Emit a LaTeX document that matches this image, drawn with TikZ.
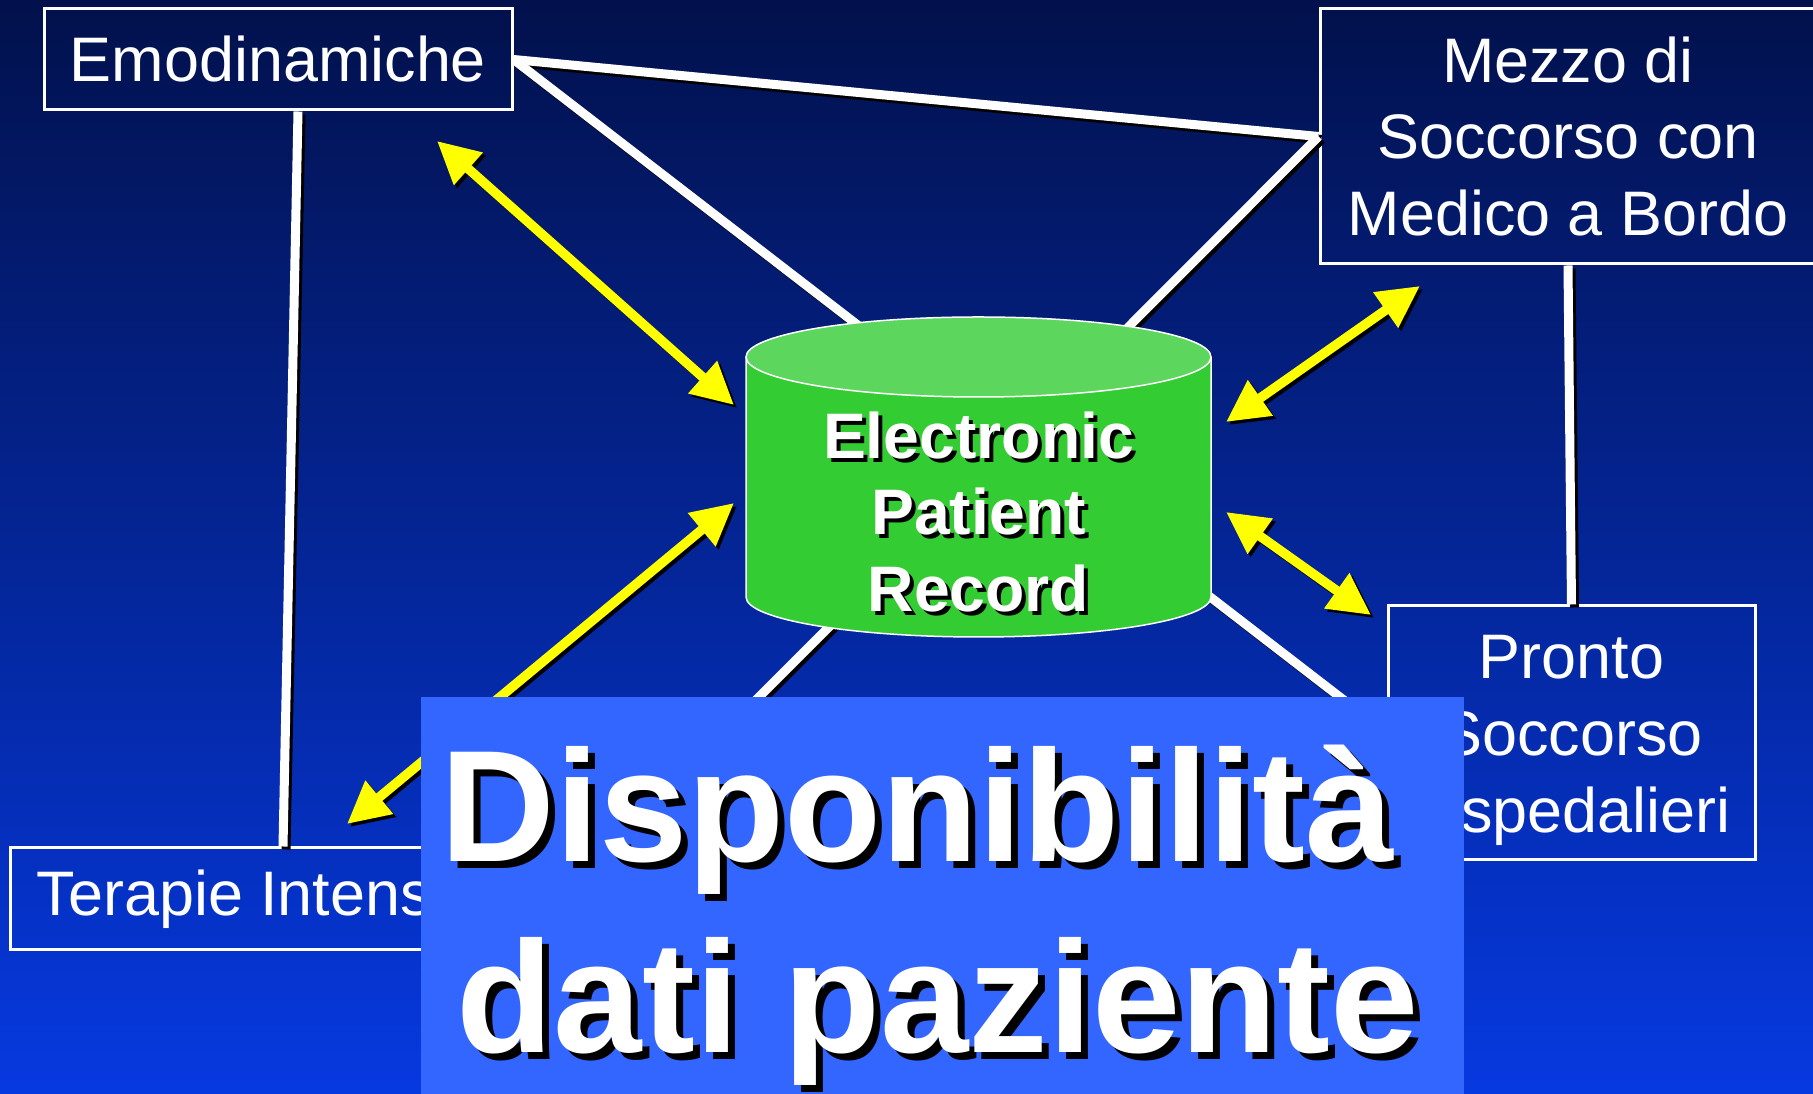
\documentclass[tikz,border=0pt]{standalone}
\usepackage{fontspec}
\setmainfont{Liberation Sans}
\usepackage{xcolor}
\usepackage{tikz}
\usetikzlibrary{arrows.meta, calc}
\definecolor{slidetop}{RGB}{2, 17, 76}
\definecolor{slidebottom}{RGB}{6, 57, 224}
\definecolor{eprbody}{RGB}{51, 204, 51}
\definecolor{eprtop}{RGB}{92, 214, 92}
\definecolor{bannerblue}{RGB}{51, 102, 255}
\definecolor{flowyellow}{RGB}{255, 255, 0}
\newcommand{\shadowed}[2][0.4mm]{\makebox[0pt][l]{\kern#1\raisebox{-#1}{\color{black}#2}}#2}

\begin{document}
\begin{tikzpicture}[x=0.1mm, y=-0.1mm,
    box/.style={draw=white, line width=0.3mm, text=white, align=center, inner sep=0pt,
        font=\fontsize{17.9}{21.9}\selectfont},
    link/.style={white, line width=0.9mm},
    flow/.style={flowyellow, line width=0.95mm,
        {Triangle[length=4.2mm,width=4.1mm]}-{Triangle[length=4.2mm,width=4.1mm]}},
    castshadow/.style={black, transform canvas={xshift=0.3mm, yshift=-0.3mm}},
    bannertext/.style={text=white, inner sep=0pt, font=\bfseries\fontsize{45.2}{54.3}\selectfont}]

    % The slide background
    \shade[top color=slidetop, bottom color=slidebottom] (0,0) rectangle (1813,1094);
    \useasboundingbox (0,0) rectangle (1813,1094);

    % The four departments
    \node[box, minimum width=46.8mm, minimum height=10.1mm] (emod) at (278,59.5) {Emodinamiche};
    \node[box, minimum width=49.6mm, minimum height=25.5mm] (mezzo) at (1568,136.5)
        {Mezzo di\\Soccorso con\\Medico a Bordo};
    \node[box, minimum width=36.7mm, minimum height=25.4mm] (pronto) at (1571.5,733)
        {\rule{0pt}{5.9mm}Pronto\\Soccorso\\Ospedalieri};
    \node[box, minimum width=54.6mm, minimum height=10.2mm] (terapie) at (283,899)
        {Terapie Intensive\hspace{1.7mm}};

    % The network (white links)
    \foreach \a/\b in {emod.east/mezzo.west, emod.east/pronto.west,
                       mezzo.west/terapie.east, mezzo.south/pronto.north} {
        \draw[link, castshadow] (\a) -- (\b);
        \draw[link] (\a) -- (\b);
    }
    \draw[link, castshadow] ([xshift=2mm]emod.south) -- (terapie.north);
    \draw[link] ([xshift=2mm]emod.south) -- (terapie.north);

    % The record store (cylinder)
    \filldraw[fill=eprbody, draw=white, line width=0.15mm] (746,357) -- (746,597)
        arc[start angle=180, end angle=0, x radius=232.5, y radius=40] -- (1211,357);
    \filldraw[fill=eprtop, draw=white, line width=0.15mm] (978.5,357) ellipse [x radius=232.5, y radius=40];
    \node[text=white, align=center, inner sep=0pt, font=\bfseries\fontsize{18.3}{21.9}\selectfont]
        (epr) at (978.5,514) {\shadowed{Electronic}\\\shadowed{Patient}\\\shadowed{Record}};

    % Data exchange (yellow arrows)
    \coordinate (emodend) at (437,141);
    \coordinate (eprnw) at (734,405);
    \coordinate (mezzoend) at (1420,286);
    \coordinate (eprne) at (1226,422);
    \coordinate (eprse) at (1226,512);
    \coordinate (prontoend) at (1371,615);
    \coordinate (eprsw) at (734,503);
    \coordinate (terapieend) at (347,824);
    \foreach \p/\q in {emodend/eprnw, mezzoend/eprne, eprse/prontoend, eprsw/terapieend} {
        \draw[flow, castshadow] (\p) -- (\q);
        \draw[flow] (\p) -- (\q);
    }

    % The banner
    \node[fill=bannerblue, minimum width=104.3mm, minimum height=39.8mm, inner sep=0pt,
        anchor=north west] (banner) at (420,696) {};
    \node[bannertext, anchor=base] (titleone) at (917,862) {\shadowed[0.7mm]{Disponibilità}};
    \node[bannertext, anchor=base] (titletwo) at (938,1053) {\shadowed[0.7mm]{dati paziente}};
\end{tikzpicture}
\end{document}
